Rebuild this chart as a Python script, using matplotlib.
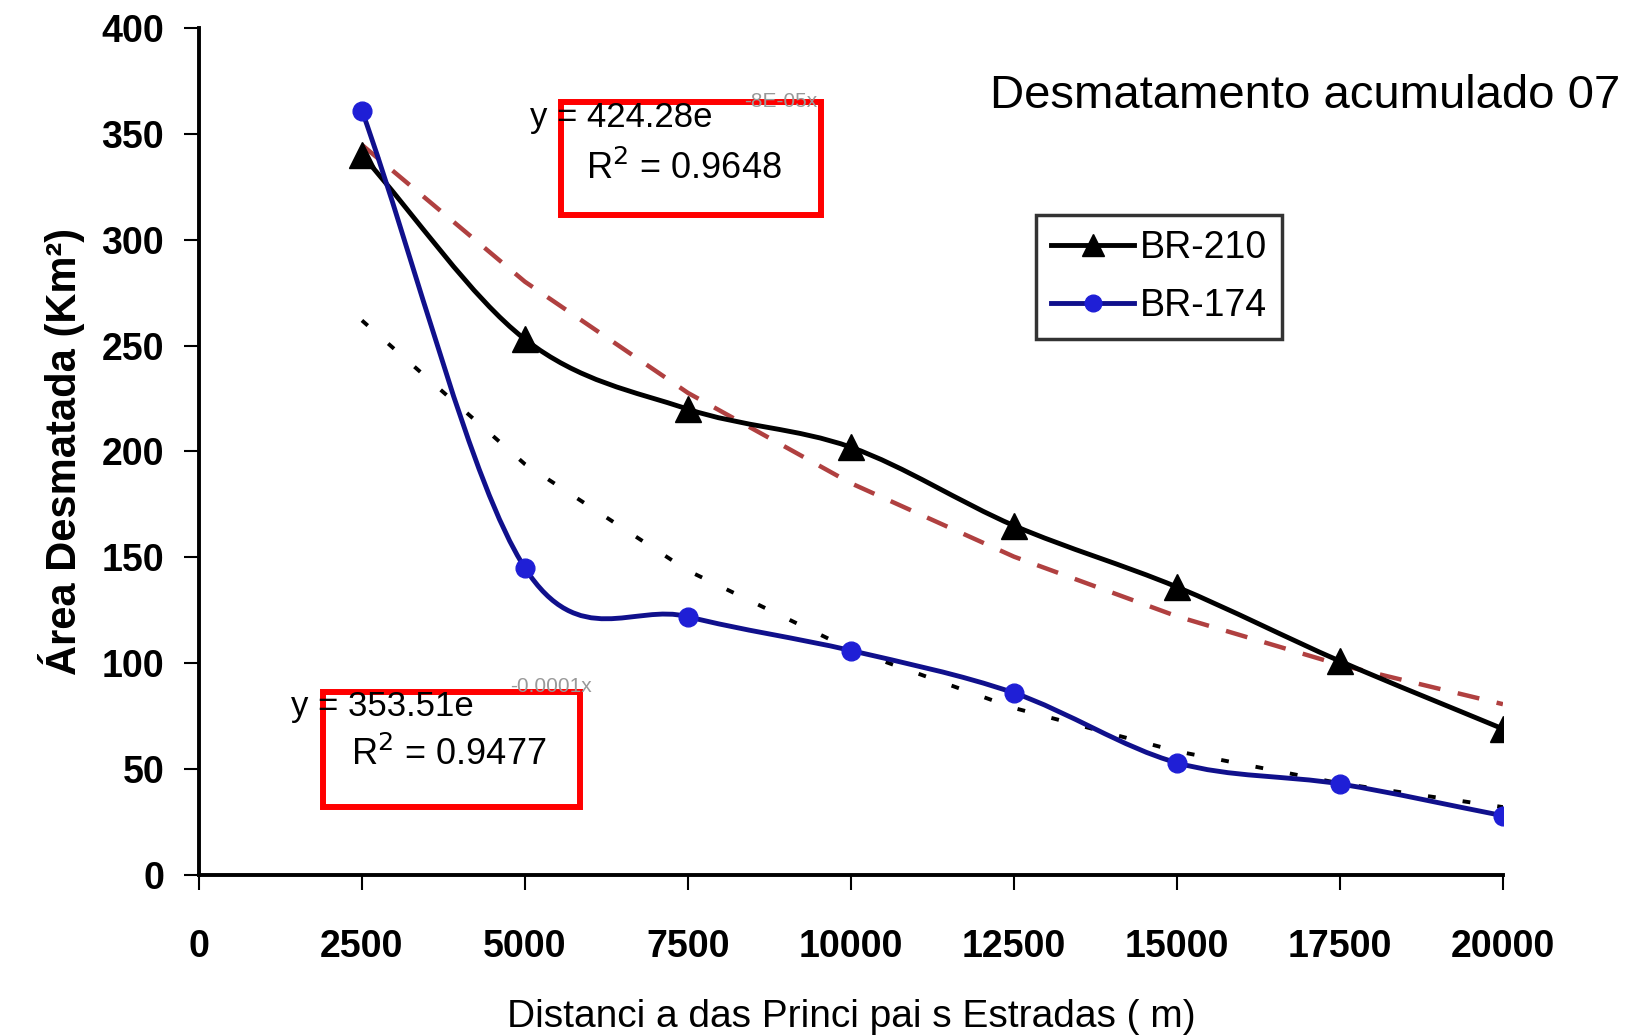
import matplotlib
matplotlib.use("Agg")
import matplotlib.pyplot as plt
from matplotlib.path import Path
from matplotlib.patches import PathPatch, Rectangle
import numpy as np

plt.rcParams['font.family'] = ['Liberation Sans', 'DejaVu Sans']

# dados
distancia = [2500, 5000, 7500, 10000, 12500, 15000, 17500, 20000]
br210 = [340, 253, 220, 202, 165, 136, 101, 69]
br174 = [361, 145, 122, 106, 86, 53, 43, 28]

# linhas de tendencia (exponencial): y = a * exp(b * x)
tend210_a, tend210_b = 424.28, -8.3e-05
tend174_a, tend174_b = 353.51, -0.00012

xticks = [0, 2500, 5000, 7500, 10000, 12500, 15000, 17500, 20000]
yticks = [0, 50, 100, 150, 200, 250, 300, 350, 400]


def smooth_path(xs, ys):
    # curva suavizada tipo Excel (bezier pelos pontos)
    pts = np.column_stack([xs, ys]).astype(float)
    n = len(pts)
    verts = [pts[0]]
    codes = [Path.MOVETO]
    for i in range(n - 1):
        p1 = pts[i]
        p2 = pts[i + 1]
        p0 = pts[i - 1] if i > 0 else 2 * p1 - p2
        p3 = pts[i + 2] if i + 2 < n else 2 * p2 - p1
        c1 = p1 + (p2 - p0) / 6.0
        c2 = p2 - (p3 - p1) / 6.0
        verts += [c1, c2, p2]
        codes += [Path.CURVE4] * 3
    return Path(verts, codes)


fig = plt.figure(figsize=(16.32, 10.36), dpi=100)
ax = fig.add_axes([0.1219, 0.1554, 0.7990, 0.8176])

# tendencias
xt = np.array(distancia, dtype=float)
ax.plot(xt, tend210_a * np.exp(tend210_b * xt), color='#b04040', lw=3.2,
        dashes=(5, 4), zorder=2)
ax.plot(xt, tend174_a * np.exp(tend174_b * xt), color='black', lw=2.8,
        dashes=(2, 7), zorder=2)

# series
ax.add_patch(PathPatch(smooth_path(distancia, br210), fill=False,
                       edgecolor='black', lw=3.5, zorder=3))
ax.add_patch(PathPatch(smooth_path(distancia, br174), fill=False,
                       edgecolor='#10108c', lw=3.5, zorder=3))
ax.plot(distancia, br210, color='black', ls='none', marker='^',
        markersize=19, zorder=4)
ax.plot(distancia, br174, ls='none', marker='o', markersize=13.5,
        markerfacecolor='#1f1fd6', markeredgecolor='#1f1fd6', zorder=4)

ax.set_xlim(0, 20000)
ax.set_ylim(0, 400)
ax.set_xticks(xticks)
ax.set_yticks(yticks)
ax.set_xticklabels([str(v) for v in xticks], fontsize=27, fontweight='bold')
ax.set_yticklabels([str(v) for v in yticks], fontsize=27, fontweight='bold')
ax.tick_params(axis='x', direction='out', length=11, width=1.5, pad=28)
ax.tick_params(axis='y', direction='out', length=11, width=1.5, pad=14)

for s in ['top', 'right']:
    ax.spines[s].set_visible(False)
for s in ['left', 'bottom']:
    ax.spines[s].set_linewidth(2.8)

ax.set_xlabel('Distanci a das Princi pai s Estradas ( m)', fontsize=28, labelpad=24)
ax.set_ylabel('Área Desmatada (Km²)', fontsize=30, fontweight='bold', labelpad=12)

# legenda
leg_handles = [
    plt.Line2D([], [], color='black', lw=3.5, marker='^', markersize=16),
    plt.Line2D([], [], color='#10108c', lw=3.5, marker='o', markersize=12,
               markerfacecolor='#1f1fd6', markeredgecolor='#1f1fd6'),
]
leg = fig.legend(leg_handles, ['BR-210', 'BR-174'], loc='upper left',
                 bbox_to_anchor=(0.635, 0.7925), fontsize=27, frameon=True,
                 fancybox=False, handlelength=2.2, handletextpad=0.15,
                 borderpad=0.4, labelspacing=0.6, borderaxespad=0)
leg.get_frame().set_edgecolor('black')
leg.get_frame().set_linewidth(2.5)

# titulo
fig.text(0.993, 0.907, 'Desmatamento acumulado 07', fontsize=34,
         ha='right', va='center')

# equacoes
fig.text(0.325, 0.8865, 'y = 424.28e', fontsize=25, ha='left', va='center')
fig.text(0.456, 0.9025, '-8E-05x', fontsize=15, ha='left', va='center', color='#999999')
fig.text(0.419, 0.837, 'R$^2$ = 0.9648', fontsize=26, ha='center', va='center')
fig.text(0.1786, 0.3185, 'y = 353.51e', fontsize=25, ha='left', va='center')
fig.text(0.3125, 0.337, '-0.0001x', fontsize=15, ha='left', va='center', color='#999999')
fig.text(0.275, 0.271, 'R$^2$ = 0.9477', fontsize=26, ha='center', va='center')

fig.add_artist(Rectangle((0.344, 0.7925), 0.159, 0.109, transform=fig.transFigure,
                         fill=False, edgecolor='#ff0000', lw=4.3))
fig.add_artist(Rectangle((0.198, 0.221), 0.1575, 0.111, transform=fig.transFigure,
                         fill=False, edgecolor='#ff0000', lw=4.3))

fig.savefig('out.png', dpi=100)
